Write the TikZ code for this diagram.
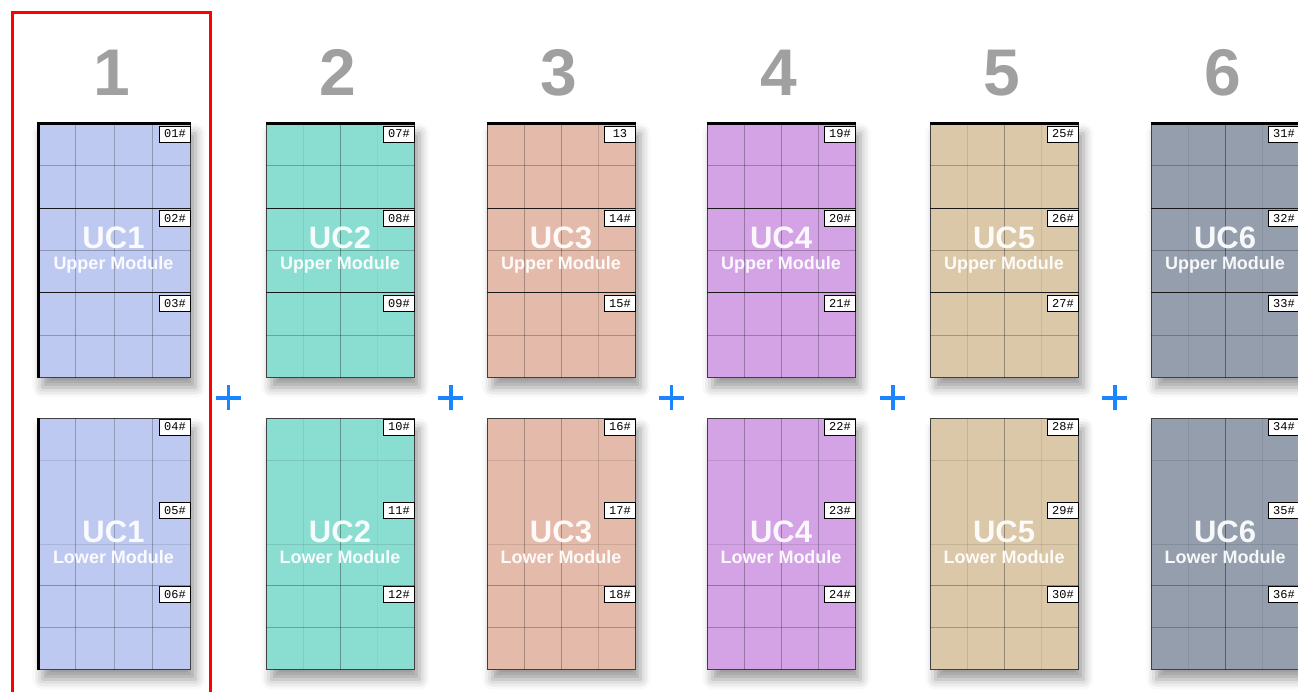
\documentclass[tikz,border=0pt]{standalone}
\usepackage{fontspec}
\setmainfont{Liberation Sans}
\setmonofont{Liberation Mono}
\usepackage{xcolor}
\usetikzlibrary{calc,positioning,shadows.blur}

\definecolor{ucone}{HTML}{BEC9F1}
\definecolor{uctwo}{HTML}{8ADDD1}
\definecolor{ucthree}{HTML}{E4BBAA}
\definecolor{ucfour}{HTML}{D3A3E5}
\definecolor{ucfive}{HTML}{DBC8A8}
\definecolor{ucsix}{HTML}{949EAD}
\definecolor{numgray}{HTML}{A0A0A0}
\definecolor{plusblue}{HTML}{1A85FF}

\newcommand\tagno[1]{\ifnum#1<10 0\fi#1\ifnum#1=13 \else\#\fi}

\begin{document}
\begin{tikzpicture}[x=1pt, y=-1pt,
  module/.style={draw=black!75, line width=0.8pt, inner sep=0pt, anchor=north west,
    blur shadow={shadow xshift=5pt, shadow yshift=-10pt, shadow blur radius=10pt, shadow opacity=40}},
  cellline/.style={draw=black, line width=0.8pt},
  bandline/.style={draw=black!90, line width=0.8pt},
  tag/.style={draw=black, fill=white, line width=0.7pt, minimum width=31pt, minimum height=16pt,
    inner sep=0pt, anchor=north east, font=\ttfamily\fontsize{12}{12}\selectfont},
  uctext/.style={text=white, text opacity=0.93, anchor=base, font=\bfseries\fontsize{31}{31}\selectfont},
  subtext/.style={text=white, text opacity=0.93, anchor=base, font=\bfseries\fontsize{18}{18}\selectfont},
  numtext/.style={text=numgray, anchor=base, font=\bfseries\fontsize{66}{66}\selectfont},
  plussign/.style={draw=plusblue, line width=3.5pt},
  redframe/.style={draw=red, line width=3pt}]
  \useasboundingbox (0,0) rectangle (1298,691);
  \clip (0,0) rectangle (1298,691);

  \foreach \i/\x/\w/\col/\va/\vb/\vc in {1/37/153/ucone/.25/.22/.25, 2/266/148/uctwo/.07/.32/.03,
    3/487/148/ucthree/.27/.27/.15, 4/707/148/ucfour/.28/.28/.24, 5/930/148/ucfive/.1/.32/.08,
    6/1151/148/ucsix/.08/.4/.08} {
    \node[numtext] (num\i) at (\x+\w/2-2,95) {\i};
    \node[module, fill=\col, minimum width=\w pt, minimum height=254pt] (up\i) at (\x,123) {};
    \node[module, fill=\col, minimum width=\w pt, minimum height=251pt] (lo\i) at (\x,418) {};
    % grid of cells
    \foreach \m in {up\i,lo\i}
      \foreach \f/\o in {.25/\va,.5/\vb,.75/\vc}
        \draw[cellline, draw opacity=\o] ($(\m.north west)!\f!(\m.north east)$) -- ($(\m.south west)!\f!(\m.south east)$);
    \foreach \f/\o in {1/.25,3/.25,5/.25}
      \draw[cellline, draw opacity=\o] ($(up\i.north west)!\f/6!(up\i.south west)$) -- ($(up\i.north east)!\f/6!(up\i.south east)$);
    \foreach \f in {2,4}
      \draw[bandline] ($(up\i.north west)!\f/6!(up\i.south west)$) -- ($(up\i.north east)!\f/6!(up\i.south east)$);
    \foreach \f/\o in {1/.1,3/.1,4/.3,5/.25}
      \draw[cellline, draw opacity=\o] ($(lo\i.north west)!\f/6!(lo\i.south west)$) -- ($(lo\i.north east)!\f/6!(lo\i.south east)$);
    \draw[line width=3pt] (up\i.north west) -- (up\i.north east);
    % panel tags
    \foreach \k/\f in {1/0,2/1,3/2} {
      \pgfmathtruncatemacro\n{6*(\i-1)+\k}
      \pgfmathtruncatemacro\nn{6*(\i-1)+\k+3}
      \node[tag] (tg\n) at ($(up\i.north east)!\f/3!(up\i.south east)+(0,2.5)$) {\tagno{\n}};
      \node[tag] (tg\nn) at ($(lo\i.north east)!\f/3!(lo\i.south east)+(0,0.5)$) {\tagno{\nn}};
    }
    \node[uctext] (uu\i) at (\x+\w/2,248) {UC\i};
    \node[subtext] (us\i) at (\x+\w/2,269) {Upper Module};
    \node[uctext] (lu\i) at (\x+\w/2,542) {UC\i};
    \node[subtext] (ls\i) at (\x+\w/2,563) {Lower Module};
  }
  \draw[line width=3pt] ($(up1.north west)+(1.5,0)$) -- ($(up1.south west)+(1.5,0)$);
  \draw[line width=3pt] ($(lo1.north west)+(1.5,0)$) -- ($(lo1.south west)+(1.5,0)$);

  \foreach \i [evaluate=\i as \j using int(\i+1)] in {1,...,5} {
    \coordinate (pl\i) at ($(up\i.south east)!.5!(lo\j.north west)$);
    \draw[plussign] ($(pl\i)+(-12.5,0)$) -- ++(25,0) ($(pl\i)+(0,-12.5)$) -- ++(0,25);
  }

  \draw[redframe] (12,12) rectangle (210,705);
\end{tikzpicture}
\end{document}
